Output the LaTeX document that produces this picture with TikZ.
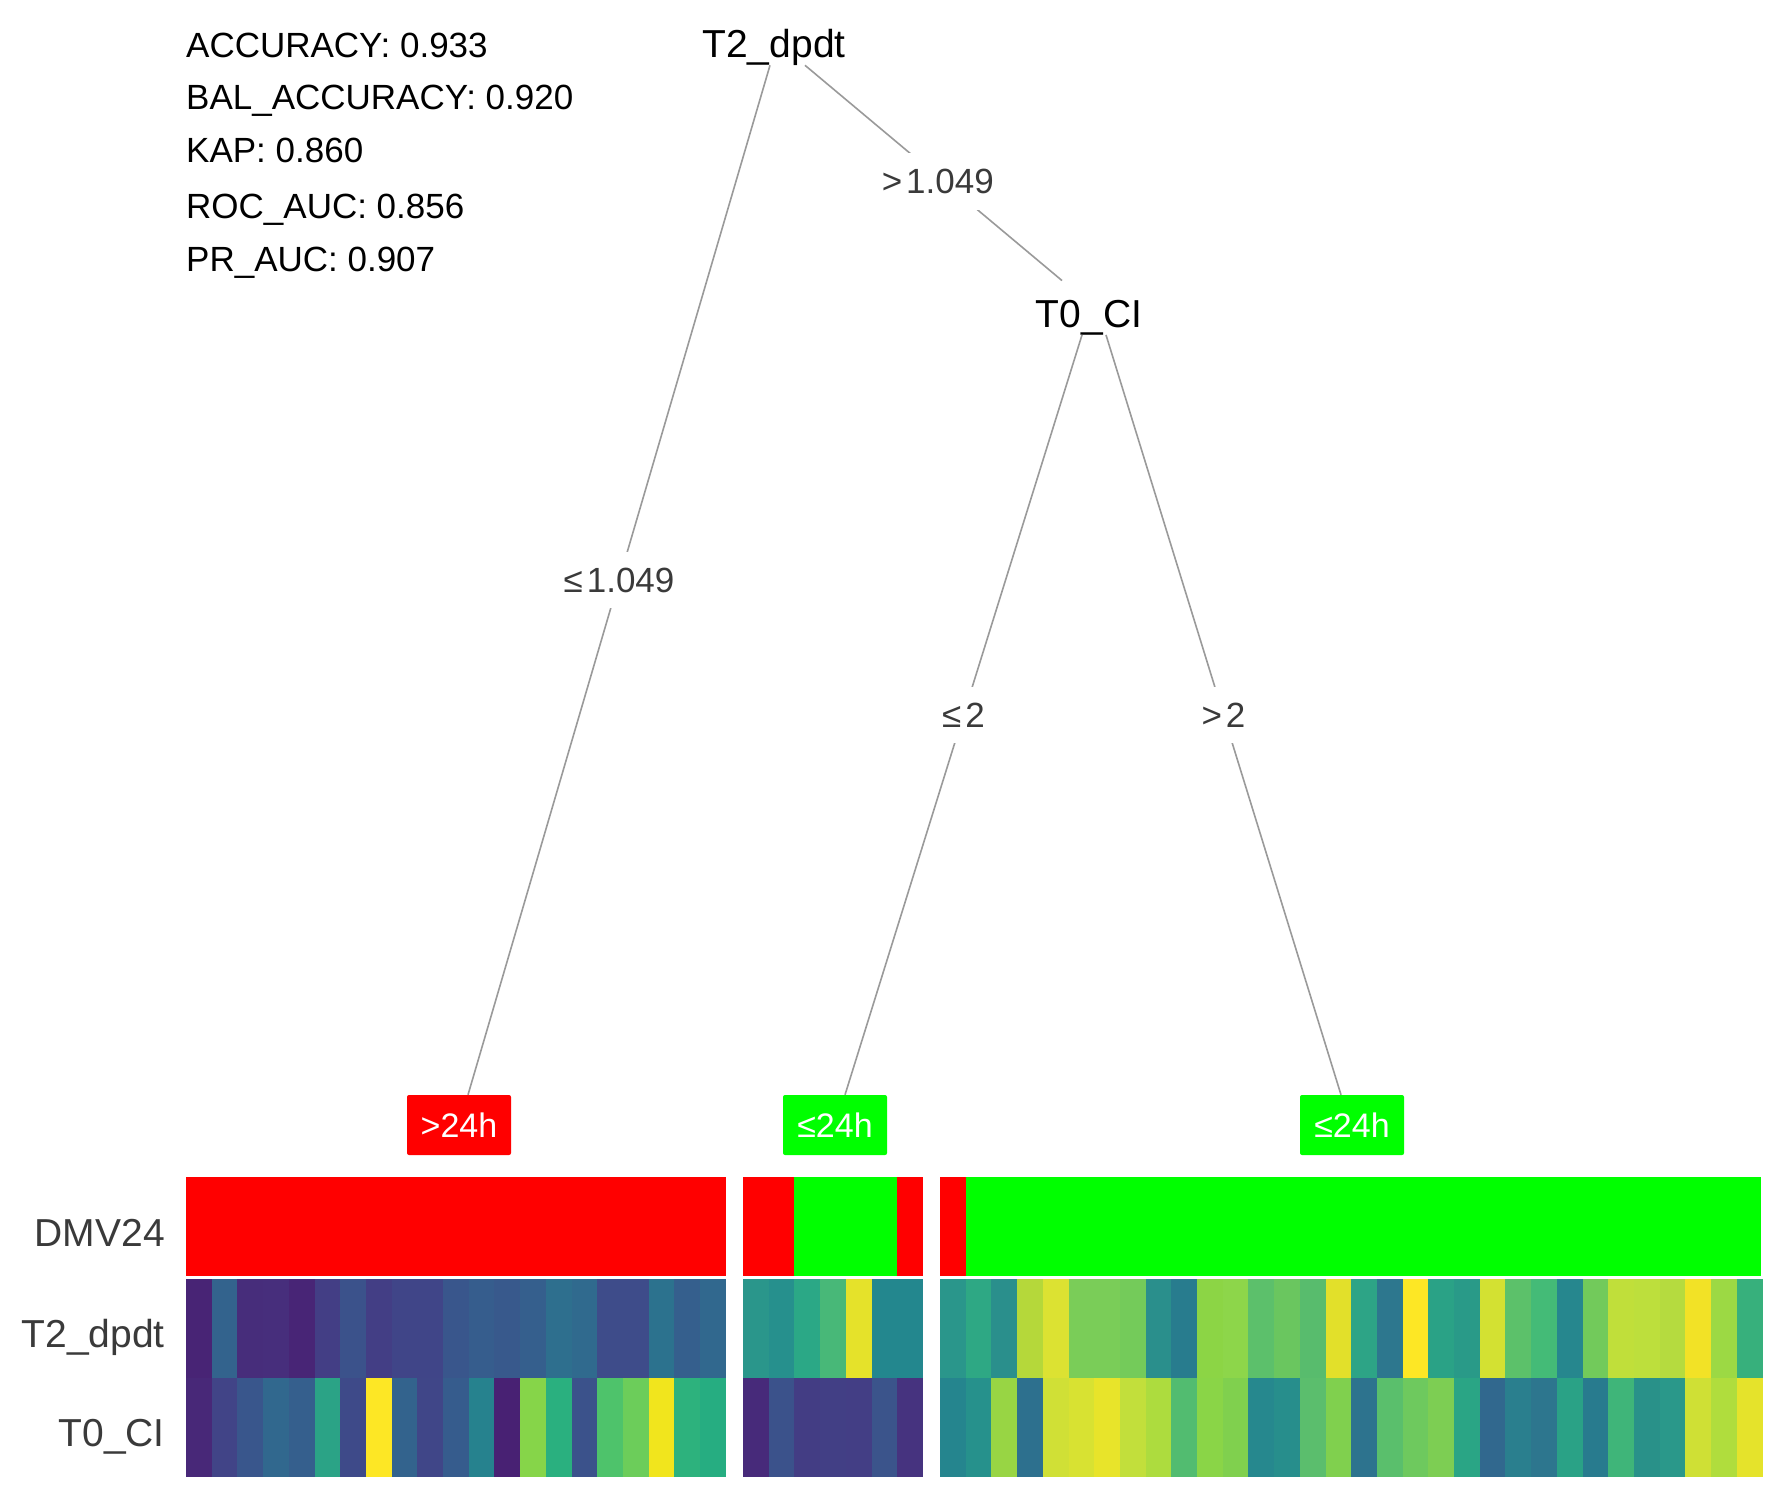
\documentclass[tikz,border=0pt]{standalone}
\usepackage{fontspec}
\setmainfont{Liberation Sans}
\definecolor{hred}{HTML}{FF0000}
\definecolor{hgreen}{HTML}{00FF00}
\definecolor{edgegray}{HTML}{9A9A9A}
\definecolor{labgray}{HTML}{3A3A3A}
\newcommand\heatrow[4]{%
  \foreach \c [count=\i from 0] in {#4} {%
    \edef\tmpdef{\noexpand\definecolor{hc}{HTML}{\c}}\tmpdef
    \fill[hc] ({#1+\i*25.7},#2) rectangle ({#1+\i*25.7+26.2},{#2+#3});
  }}
\begin{document}
\begin{tikzpicture}[x=1pt,y=-1pt,
  metric/.style={anchor=base west, font=\fontsize{35}{42}\selectfont, inner sep=0pt},
  splitnode/.style={anchor=base, font=\fontsize{39}{47}\selectfont, inner sep=0pt},
  edgelab/.style={fill=white, text=labgray, font=\fontsize{35}{42}\selectfont, inner xsep=8pt, inner ysep=16pt},
  treeedge/.style={draw=edgegray, line width=1.6pt},
  leafbox/.style={minimum width=104pt, minimum height=60pt, rounded corners=2pt, text=white, font=\fontsize{34}{40}\selectfont, inner sep=0pt},
  rowlab/.style={anchor=base east, font=\fontsize{39}{47}\selectfont, text=labgray, inner sep=0pt}
]
\useasboundingbox (0,0) rectangle (1772,1489);
\fill[white] (0,0) rectangle (1772,1489);

% metrics
\node[metric] (m1) at (186,57.5) {ACCURACY: 0.933};
\node[metric] (m2) at (186,109.5) {BAL\_ACCURACY: 0.920};
\node[metric] (m3) at (186,162.5) {KAP: 0.860};
\node[metric] (m4) at (186,218.5) {ROC\_AUC: 0.856};
\node[metric] (m5) at (186,271.5) {PR\_AUC: 0.907};

% tree nodes
\node[splitnode] (t2) at (774,57) {T2\_dpdt};
\node[splitnode] (t0) at (1089,327) {T0\_CI};
\node[leafbox, fill=hred] (l1) at (459,1125) {>24h};
\node[leafbox, fill=hgreen] (l2) at (835,1125) {≤24h};
\node[leafbox, fill=hgreen] (l3) at (1352,1125) {≤24h};

% edges
\draw[treeedge] ([xshift=-4pt]t2.south) -- node[edgelab]{≤\kern4pt1.049} ([xshift=9pt]l1.north);
\draw[treeedge] ([xshift=31pt]t2.south) -- node[edgelab,pos=0.54,xshift=-6pt]{>\kern4pt1.049} ([xshift=-27pt,yshift=19pt]t0.north);
\draw[treeedge] ([xshift=-7pt]t0.south) -- node[edgelab]{≤\kern4pt2} ([xshift=10pt]l2.north);
\draw[treeedge] ([xshift=17pt]t0.south) -- node[edgelab]{>\kern4pt2} ([xshift=-11pt]l3.north);

% heatmap row labels
\node[rowlab] (r1) at (165,1246) {DMV24};
\node[rowlab] (r2) at (165,1347) {T2\_dpdt};
\node[rowlab] (r3) at (165,1446) {T0\_CI};

% DMV24 row
\fill[hred] (186,1177) rectangle (725.7,1276);
\fill[hred] (743,1177) rectangle (794.4,1276);
\fill[hgreen] (794.4,1177) rectangle (897.2,1276);
\fill[hred] (897.2,1177) rectangle (922.9,1276);
\fill[hred] (940,1177) rectangle (965.7,1276);
\fill[hgreen] (965.7,1177) rectangle (1761,1276);

% T2_dpdt row
\heatrow{186}{1279}{98.5}{482475,33638D,472D7B,472E7C,482576,433E85,3B528B,433E85,404588,404588,39568C,365D8D,38598C,355F8D,2E6F8E,306A8E,3E4C8A,3E4C8A,2C728E,355F8D,31688E}
\heatrow{743}{1279}{98.5}{2A968B,26908D,2BA886,48B878,E5E22A,23878E,23878E}
\heatrow{940}{1279}{98.5}{2A968B,2EA884,2A8F8C,B5D83A,DCE232,7ACD58,7ACD58,74CB5A,2A8F8C,287C8E,8CD545,8DD64A,5CC06B,6AC65F,58BC6D,E2E02A,2DA486,2D778E,FDE725,2AA286,299A88,D3E132,5CC16A,44BB77,26878E,72CA5B,C0DF3A,BDDF3C,B5DB3F,F2E226,9CD944,37B07C}

% T0_CI row
\heatrow{186}{1377.5}{99.5}{482878,414487,39568C,31688E,355F8D,2BA386,3E4A89,FDE725,33638D,404688,365C8D,26828E,482173,86D549,2AB07F,3B528B,4EC36B,6CCD5A,F1E51D,2DB27D,26AD81}
\heatrow{743}{1377.5}{99.5}{472A7A,3B528B,433D84,423F85,433E85,3B548B,46337F}
\heatrow{940}{1377.5}{99.5}{25858E,26918C,98D544,2D708E,D0E036,D8E232,E8E42A,C2DF3B,ADDC3E,52BC70,8AD547,80D04E,26888E,278E8C,5BBE6D,80D04E,2D738E,5ABF6C,6EC95E,7DCE53,2AA585,31688E,2A7F8E,2D768E,2AA286,287B8E,3FB579,299189,2A988A,CFE035,B0DD3D,E5E32B}
\end{tikzpicture}
\end{document}
